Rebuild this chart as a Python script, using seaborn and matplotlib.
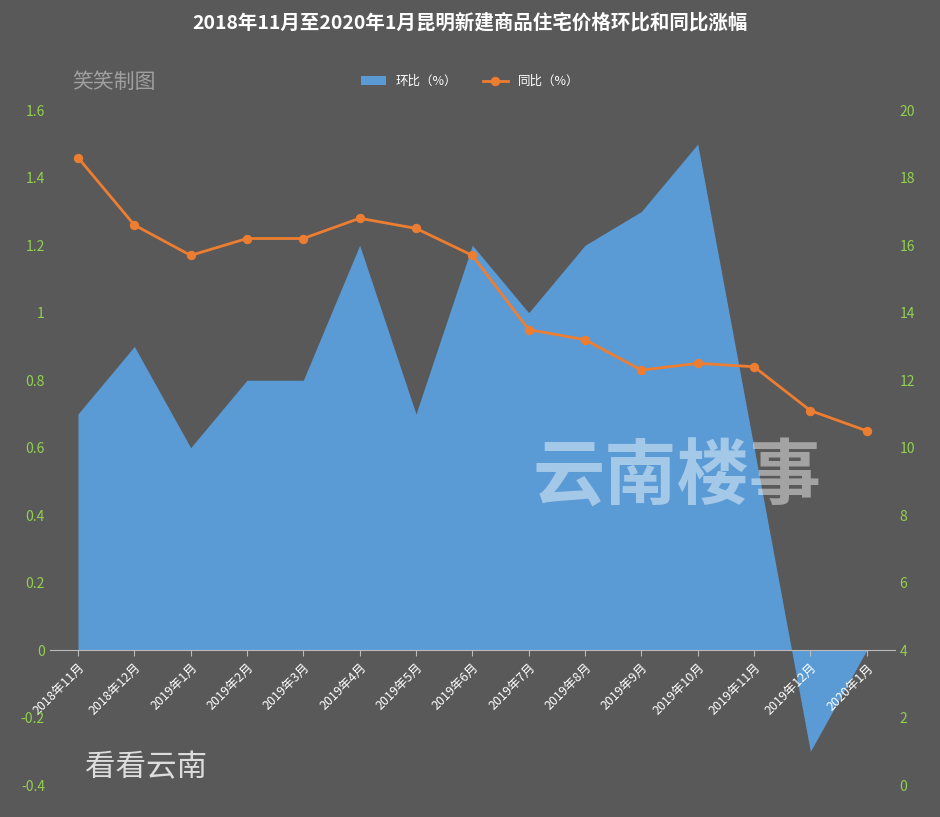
import matplotlib.pyplot as plt
import seaborn as sns
import pandas as pd

plt.rcParams['font.family'] = ['Noto Sans CJK SC', 'DejaVu Sans']

# --- DATA ---
months = ['2018年11月', '2018年12月', '2019年1月', '2019年2月', '2019年3月', '2019年4月',
          '2019年5月', '2019年6月', '2019年7月', '2019年8月', '2019年9月', '2019年10月',
          '2019年11月', '2019年12月', '2020年1月']
mom = [0.7, 0.9, 0.6, 0.8, 0.8, 1.2, 0.7, 1.2, 1.0, 1.2, 1.3, 1.5, 0.6, -0.3, 0.0]
yoy = [18.6, 16.6, 15.7, 16.2, 16.2, 16.8, 16.5, 15.7, 13.5, 13.2, 12.3, 12.5, 12.4, 11.1, 10.5]

df = pd.DataFrame({'month': months, 'mom': mom, 'yoy': yoy, 'x': range(len(months))})

bg = '#595959'
fig = plt.figure(figsize=(9.4, 8.17), dpi=100, facecolor=bg)
ax = fig.add_axes([0.053, 0.039, 0.899, 0.826], facecolor=bg)
ax2 = ax.twinx()

ax.fill_between(df['x'], df['mom'], 0, color='#5B9BD5', lw=0, label='环比（%）')
sns.lineplot(data=df, x='x', y='yoy', ax=ax2, color='#ED7D31', marker='o', markersize=6,
             markeredgecolor='#ED7D31', lw=2, label='同比（%）', legend=False)

# spines first (set_position resets tick settings)
ax.spines['bottom'].set_position(('data', 0))
ax.spines['bottom'].set_color('#bbbbbb')
for a in (ax, ax2):
    for s in ['top', 'left', 'right']:
        a.spines[s].set_visible(False)
ax2.spines['bottom'].set_visible(False)

ax.set_xlim(-0.5, len(months) - 0.5)
ax.set_ylim(-0.4, 1.6)
ax2.set_ylim(0, 20)
ax.set_yticks([-0.4, -0.2, 0, 0.2, 0.4, 0.6, 0.8, 1, 1.2, 1.4, 1.6])
ax.set_yticklabels(['-0.4', '-0.2', '0', '0.2', '0.4', '0.6', '0.8', '1', '1.2', '1.4', '1.6'])
ax2.set_yticks(range(0, 21, 2))
ax.set_xticks(df['x'])
ax.set_xticklabels(months, rotation=45, ha='right', rotation_mode='anchor', color='white', fontsize=9)
ax.tick_params(axis='x', length=4, color='#bbbbbb', pad=4)
ax.tick_params(axis='y', colors='#92D050', labelsize=10, length=0)
ax2.tick_params(axis='y', colors='#92D050', labelsize=10, length=0)
ax.set_xlabel('')
ax2.set_xlabel('')
ax2.set_ylabel('')

fig.text(0.5, 0.972, '2018年11月至2020年1月昆明新建商品住宅价格环比和同比涨幅',
         ha='center', va='center', color='white', fontsize=14, fontweight='bold')
fig.text(0.077, 0.9, '笑笑制图', color='#a0a0a0', fontsize=15, va='center')
fig.text(0.72, 0.415, '云南楼事', color='white', alpha=0.45, fontsize=52,
         fontweight='bold', ha='center', va='center')
fig.text(0.09, 0.06, '看看云南', color='white', alpha=0.8, fontsize=22, va='center')

h1, l1 = ax.get_legend_handles_labels()
h2, l2 = ax2.get_legend_handles_labels()
fig.legend(h1 + h2, l1 + l2, loc='center', bbox_to_anchor=(0.5, 0.9), ncol=2,
           frameon=False, labelcolor='white', fontsize=9)

fig.savefig('out.png', dpi=100, facecolor=bg)
